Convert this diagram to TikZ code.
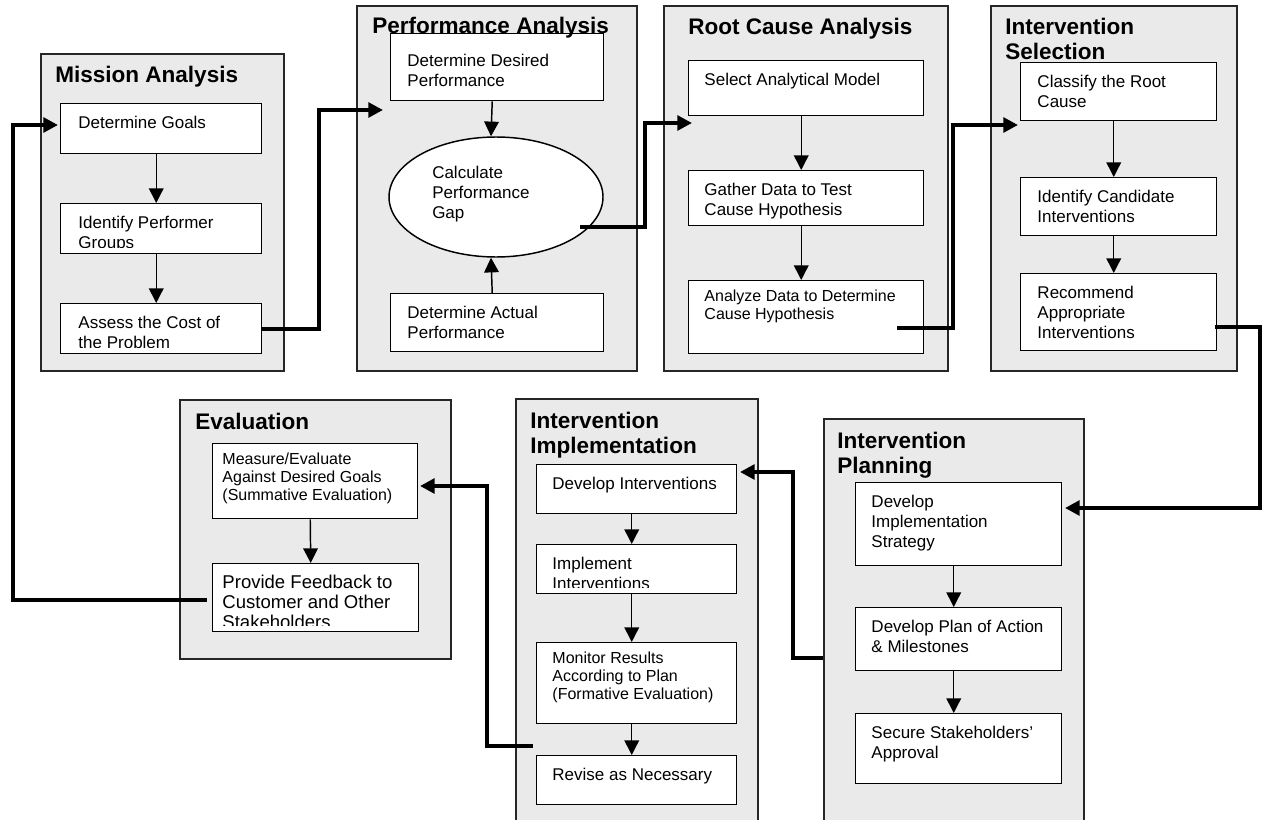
\documentclass[tikz,border=0pt]{standalone}
\usepackage{fontspec}
\setmainfont{Liberation Sans}
\usetikzlibrary{calc,arrows.meta,shapes.geometric}
\definecolor{panelgray}{RGB}{234,234,234}

\begin{document}
\begin{tikzpicture}[x=0.75pt,y=-0.75pt]
	\def\px{0.75pt}
	\def\tx{16}
	\def\bodyfont{\fontsize{12.75}{15}\selectfont}
	\def\smallfont{\fontsize{12}{13.5}\selectfont}
	\def\bigfont{\fontsize{13.9}{15}\selectfont}
	\def\titlefont{\fontsize{16.9}{18.75}\selectfont\bfseries}
	\tikzset{
		panel/.style={draw=black!85,line width=1.5pt,fill=panelgray,inner sep=0pt,anchor=north west},
		stepbox/.style={draw,line width=1.1pt,fill=white,inner sep=0pt,anchor=north west},
		steptext/.style={inner sep=0pt,anchor=base west,font=\bodyfont},
		smalltext/.style={font=\smallfont,yshift=3pt},
		phasetitle/.style={inner sep=0pt,anchor=base west,font=\titlefont},
		flow/.style={-{Triangle[length=11pt,width=11pt]},line width=1.1pt},
		link/.style={-{Triangle[length=11pt,width=11pt]},line width=3pt},
	}
	% panel: name, x1, y1, x2, y2
	\def\pnl#1#2#3#4#5{
		\node[panel,minimum width=(#4-#2)*\px,minimum height=(#5-#3)*\px] (#1) at (#2,#3) {};
	}
	% step box: text options, name, x1, y1, x2, y2, lines (cut off near the bottom)
	\def\stp#1#2#3#4#5#6#7{
		\node[stepbox,minimum width=(#5-#3)*\px,minimum height=(#6-#4)*\px,
			path picture={
				\clip (path picture bounding box.north west) rectangle ([yshift=4.5pt]path picture bounding box.south east);
				\node[steptext,#1] at ($(path picture bounding box.north west)+(\tx,25)$) {\parbox[t]{9cm}{#7}};
			}] (#2) at (#3,#4) {};
	}
	\useasboundingbox (0,0) rectangle (1266,820);
	% phases
	\pnl{pmission}{40}{53}{283}{370}
	\pnl{pperf}{356}{5}{636}{370}
	\pnl{proot}{663}{5}{947}{370}
	\pnl{pselect}{990}{5}{1236}{370}
	\pnl{peval}{179}{399}{450}{658}
	\pnl{pimpl}{515}{398}{757}{830}
	\pnl{pplan}{823}{418}{1083}{830}
	% mission analysis
	\def\tx{17}
	\stp{}{goals}{60}{103}{261}{153}{Determine Goals}
	\stp{}{groups}{60}{203}{261}{253}{Identify Performer\\Groups}
	\stp{}{cost}{60}{303}{261}{353}{Assess the Cost of\\the Problem}
	% performance analysis
	\def\tx{16}
	\stp{yshift=-6pt}{desired}{390}{33}{603}{100}{Determine Desired\\Performance}
	\stp{}{actual}{390}{293}{603}{351}{Determine Actual\\Performance}
	\node[draw,ellipse,line width=1.1pt,fill=white,inner sep=0pt,minimum width=214*\px,minimum height=120*\px] (gap) at (496,197) {};
	\node[steptext] (gaptext) at (432,178) {\parbox[t]{4cm}{Calculate\\Performance\\Gap}};
	% root cause analysis
	\def\tx{15}
	\stp{}{model}{688}{60}{923}{115}{Select Analytical Model}
	\stp{}{gather}{688}{170}{923}{225}{Gather Data to Test\\Cause Hypothesis}
	\stp{smalltext}{analyze}{688}{280}{923}{353}{Analyze Data to Determine\\Cause Hypothesis}
	% intervention selection
	\def\tx{16}
	\stp{}{classify}{1020}{62}{1216}{120}{Classify the Root\\Cause}
	\stp{}{candidate}{1020}{177}{1216}{235}{Identify Candidate\\Interventions}
	\stp{}{recommend}{1020}{273}{1216}{350}{Recommend\\Appropriate\\Interventions}
	% evaluation
	\def\tx{9}
	\stp{smalltext}{measure}{212}{443}{417}{518}{Measure/Evaluate\\Against Desired Goals\\(Summative Evaluation)}
	\stp{font=\bigfont}{feedback}{212}{563}{418}{631}{Provide Feedback to\\Customer and Other\\Stakeholders}
	% intervention implementation
	\def\tx{15}
	\stp{}{develop}{536}{464}{736}{513}{Develop Interventions}
	\stp{}{implement}{536}{544}{736}{593}{Implement\\Interventions}
	\stp{smalltext}{monitor}{536}{642}{736}{723}{Monitor Results\\According to Plan\\(Formative Evaluation)}
	\stp{}{revise}{536}{755}{736}{804}{Revise as Necessary}
	% intervention planning
	\stp{}{strategy}{855}{482}{1061}{565}{Develop\\Implementation\\Strategy}
	\stp{}{plan}{855}{607}{1061}{670}{Develop Plan of Action\\\& Milestones}
	\stp{}{secure}{855}{713}{1061}{783}{Secure Stakeholders’\\Approval}
	% titles on top of the boxes
	\node[phasetitle] (tmission) at (55,83) {Mission Analysis};
	\node[phasetitle] (tperf) at (372,34) {Performance Analysis};
	\node[phasetitle] (troot) at (688,35) {Root Cause Analysis};
	\node[phasetitle] (tselect) at (1005,35) {\parbox[t]{6cm}{Intervention\\Selection}};
	\node[phasetitle] (teval) at (195,429) {Evaluation};
	\node[phasetitle] (timpl) at (530,428) {\parbox[t]{6cm}{Intervention\\Implementation}};
	\node[phasetitle] (tplan) at (837,448) {\parbox[t]{6cm}{Intervention\\Planning}};
	% steps inside the phases
	\draw[flow] ([xshift=-3.75pt]goals.south) -- ([xshift=-3.75pt]groups.north);
	\draw[flow] ([xshift=-3.75pt]groups.south) -- ([xshift=-3.75pt]cost.north);
	\draw[flow] ([xshift=-3.75pt]desired.south) -- ([xshift=-3.75pt]gap.north);
	\draw[flow] ([xshift=-3.75pt]actual.north) -- ([xshift=-3.75pt]gap.south);
	\draw[flow] ([xshift=-3.75pt]model.south) -- ([xshift=-3.75pt]gather.north);
	\draw[flow] ([xshift=-3.75pt]gather.south) -- ([xshift=-3.75pt]analyze.north);
	\draw[flow] ([xshift=-3.75pt]classify.south) -- ([xshift=-3.75pt]candidate.north);
	\draw[flow] ([xshift=-3.75pt]candidate.south) -- ([xshift=-3.75pt]recommend.north);
	\draw[flow] ([xshift=-3.75pt]measure.south) -- ([xshift=-3.75pt]feedback.north);
	\draw[flow] ([xshift=-3.75pt]develop.south) -- ([xshift=-3.75pt]implement.north);
	\draw[flow] ([xshift=-3.75pt]implement.south) -- ([xshift=-3.75pt]monitor.north);
	\draw[flow] ([xshift=-3.75pt]monitor.south) -- ([xshift=-3.75pt]revise.north);
	\draw[flow] ([xshift=-3.75pt]strategy.south) -- ([xshift=-3.75pt]plan.north);
	\draw[flow] ([xshift=-3.75pt]plan.south) -- ([xshift=-3.75pt]secure.north);
	% links between the phases
	\coordinate (perfin) at (383,110);
	\coordinate (gapout) at (580,227);
	\coordinate (rootin) at (692,123);
	\coordinate (anaout) at (897,328);
	\coordinate (selin) at (1018,125);
	\coordinate (recout) at (1215,327);
	\coordinate (planin) at (1065,508);
	\coordinate (planout) at (823,658);
	\coordinate (implin) at (740,472);
	\coordinate (reviseout) at (533,746);
	\coordinate (evalin) at (420,486);
	\coordinate (feedout) at (207,600);
	\coordinate (missionin) at (58,125);
	\draw[link] (cost.east) -- ++(57,0) |- (perfin);
	\draw[link] (gapout) -- ++(65,0) |- (rootin);
	\draw[link] (anaout) -- ++(56,0) |- (selin);
	\draw[link] (recout) -- ++(45,0) |- (planin);
	\draw[link] (planout) -- ++(-30,0) |- (implin);
	\draw[link] (reviseout) -- ++(-46,0) |- (evalin);
	\draw[link] (feedout) -- ++(-194,0) |- (missionin);
\end{tikzpicture}
\end{document}
